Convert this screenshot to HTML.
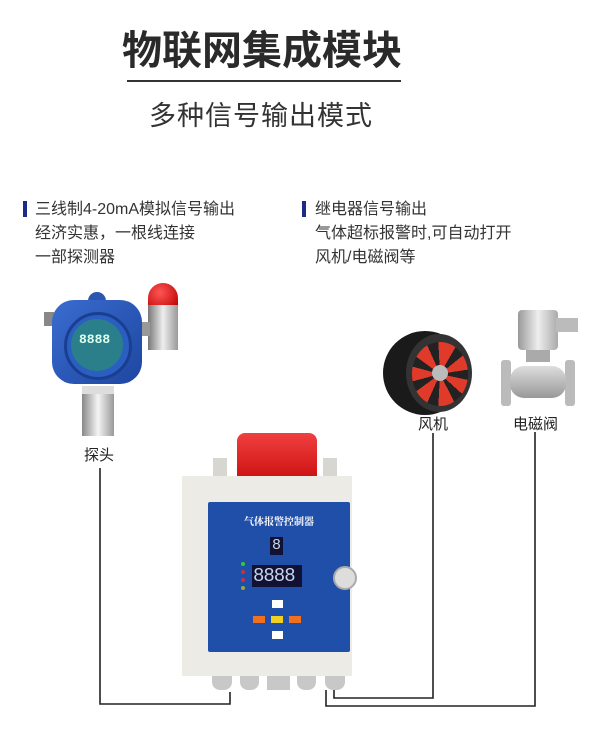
<!DOCTYPE html>
<html><head><meta charset="utf-8"><style>
body{margin:0;width:600px;height:739px;background:#fff;position:relative;overflow:hidden;font-family:"Liberation Sans","Noto Sans CJK SC",sans-serif;color:#333}
.a{position:absolute}
.t{white-space:nowrap}
</style></head><body>
<div class="a t" style="left:122px;top:18px;width:280px;text-align:center;font-size:40px;font-weight:bold;color:#2a2a2a">物联网集成模块</div>
<div class="a" style="left:127px;top:80px;width:274px;height:2px;background:#333"></div>
<div class="a t" style="left:146px;top:94px;width:230px;text-align:center;font-size:27px;color:#333;letter-spacing:1px">多种信号输出模式</div>

<div class="a" style="left:23px;top:201px;width:4px;height:16px;background:#1c2a8a"></div>
<div class="a t" style="left:35px;top:198px;font-size:16px;line-height:24px;color:#333">三线制4-20mA模拟信号输出<br>经济实惠，一根线连接<br>一部探测器</div>
<div class="a" style="left:302px;top:201px;width:4px;height:16px;background:#1c2a8a"></div>
<div class="a t" style="left:315px;top:198px;font-size:16px;line-height:24px;color:#333">继电器信号输出<br>气体超标报警时,可自动打开<br>风机/电磁阀等</div>

<!-- probe -->
<div class="a" style="left:148px;top:283px;width:30px;height:24px;background:radial-gradient(circle at 40% 40%,#f55,#b00);border-radius:15px 15px 2px 2px"></div>
<div class="a" style="left:148px;top:305px;width:30px;height:45px;background:linear-gradient(90deg,#777,#eee,#999)"></div>
<div class="a" style="left:138px;top:322px;width:12px;height:14px;background:#999"></div>
<div class="a" style="left:44px;top:312px;width:10px;height:14px;background:#888"></div>
<div class="a" style="left:88px;top:292px;width:18px;height:18px;border-radius:50%;background:#2a57b0"></div>
<div class="a" style="left:52px;top:300px;width:90px;height:84px;border-radius:22px;background:linear-gradient(135deg,#3a6cd0,#1d46a0)"></div>
<div class="a" style="left:64px;top:312px;width:62px;height:62px;border-radius:50%;background:#2a5ec0;border:3px solid #1b3f90"></div>
<div class="a" style="left:71px;top:319px;width:52px;height:52px;border-radius:50%;background:#2b7f8a"></div>
<div class="a t" style="left:79px;top:332px;font-size:13px;color:#dfe;font-family:'Liberation Mono',monospace;font-weight:bold">8888</div>
<div class="a" style="left:82px;top:386px;width:32px;height:8px;background:#ddd"></div>
<div class="a" style="left:82px;top:394px;width:32px;height:42px;background:linear-gradient(90deg,#888,#f4f4f4,#999)"></div>
<div class="a t" style="left:84px;top:444px;font-size:15px;color:#222">探头</div>

<!-- fan -->
<div class="a" style="left:383px;top:331px;width:84px;height:84px;border-radius:50%;background:#1a1a1a"></div>
<div class="a" style="left:406px;top:334px;width:66px;height:78px;border-radius:50%;background:#333"></div>
<div class="a" style="left:412px;top:342px;width:56px;height:64px;border-radius:50%;background:repeating-conic-gradient(#e03a2a 0 30deg,#222 30deg 51deg)"></div>
<div class="a" style="left:432px;top:365px;width:16px;height:16px;border-radius:50%;background:#bbb"></div>
<div class="a t" style="left:418px;top:413px;font-size:15px;color:#222">风机</div>

<!-- valve -->
<div class="a" style="left:518px;top:310px;width:40px;height:40px;background:linear-gradient(90deg,#999,#eee,#aaa);border-radius:4px"></div>
<div class="a" style="left:556px;top:318px;width:22px;height:14px;background:#bbb"></div>
<div class="a" style="left:526px;top:350px;width:24px;height:12px;background:#aaa"></div>
<div class="a" style="left:501px;top:360px;width:10px;height:46px;background:#bbb;border-radius:3px"></div>
<div class="a" style="left:565px;top:360px;width:10px;height:46px;background:#bbb;border-radius:3px"></div>
<div class="a" style="left:510px;top:366px;width:56px;height:32px;background:linear-gradient(180deg,#ddd,#999);border-radius:14px"></div>
<div class="a t" style="left:513px;top:413px;font-size:15px;color:#222">电磁阀</div>

<!-- controller -->
<div class="a" style="left:213px;top:458px;width:14px;height:22px;background:#d8d6d0"></div>
<div class="a" style="left:323px;top:458px;width:14px;height:22px;background:#d8d6d0"></div>
<div class="a" style="left:237px;top:433px;width:80px;height:46px;background:linear-gradient(180deg,#f04040,#c11);border-radius:8px 8px 0 0"></div>
<div class="a" style="left:182px;top:476px;width:170px;height:200px;background:#ecebe6"></div>
<div class="a" style="left:208px;top:502px;width:142px;height:150px;background:#1f4fa8;border-radius:2px"></div>
<div class="a t" style="left:208px;top:513px;width:142px;text-align:center;font-size:10px;color:#fff;font-weight:bold;font-family:'Liberation Serif','Noto Serif CJK SC',serif">气体报警控制器</div>
<div class="a" style="left:270px;top:537px;width:13px;height:18px;background:#113"></div>
<div class="a t" style="left:272px;top:537px;font-size:15px;color:#c8d4e8;font-family:'Liberation Mono',monospace">8</div>
<div class="a" style="left:252px;top:565px;width:50px;height:22px;background:#113"></div>
<div class="a t" style="left:253px;top:565px;font-size:19px;color:#c8d4e8;font-family:'Liberation Mono',monospace;letter-spacing:-1px">8888</div>
<div class="a" style="left:241px;top:562px;width:4px;height:4px;border-radius:50%;background:#3c3"></div>
<div class="a" style="left:241px;top:570px;width:4px;height:4px;border-radius:50%;background:#c33"></div>
<div class="a" style="left:241px;top:578px;width:4px;height:4px;border-radius:50%;background:#c33"></div>
<div class="a" style="left:241px;top:586px;width:4px;height:4px;border-radius:50%;background:#9a3"></div>
<div class="a" style="left:333px;top:566px;width:20px;height:20px;border-radius:50%;background:#ddd;border:2px solid #aaa"></div>
<div class="a" style="left:272px;top:600px;width:11px;height:8px;background:#fff"></div>
<div class="a" style="left:253px;top:616px;width:12px;height:7px;background:#f07020"></div>
<div class="a" style="left:271px;top:616px;width:12px;height:7px;background:#f0d020"></div>
<div class="a" style="left:289px;top:616px;width:12px;height:7px;background:#f07020"></div>
<div class="a" style="left:272px;top:631px;width:11px;height:8px;background:#fff"></div>
<div class="a" style="left:212px;top:676px;width:20px;height:14px;background:#c8c8c8;border-radius:0 0 8px 8px"></div>
<div class="a" style="left:240px;top:676px;width:19px;height:14px;background:#c8c8c8;border-radius:0 0 8px 8px"></div>
<div class="a" style="left:267px;top:676px;width:23px;height:14px;background:#c8c8c8"></div>
<div class="a" style="left:297px;top:676px;width:19px;height:14px;background:#c8c8c8;border-radius:0 0 8px 8px"></div>
<div class="a" style="left:325px;top:676px;width:20px;height:14px;background:#c8c8c8;border-radius:0 0 8px 8px"></div>

<svg class="a" style="left:0;top:0" width="600" height="739">
<g fill="none" stroke="#222" stroke-width="1.6">
<polyline points="100,468 100,704 230,704 230,692"/>
<polyline points="433,433 433,698 334,698 334,690"/>
<polyline points="535,432 535,706 326,706 326,690"/>
</g></svg>
</body></html>
